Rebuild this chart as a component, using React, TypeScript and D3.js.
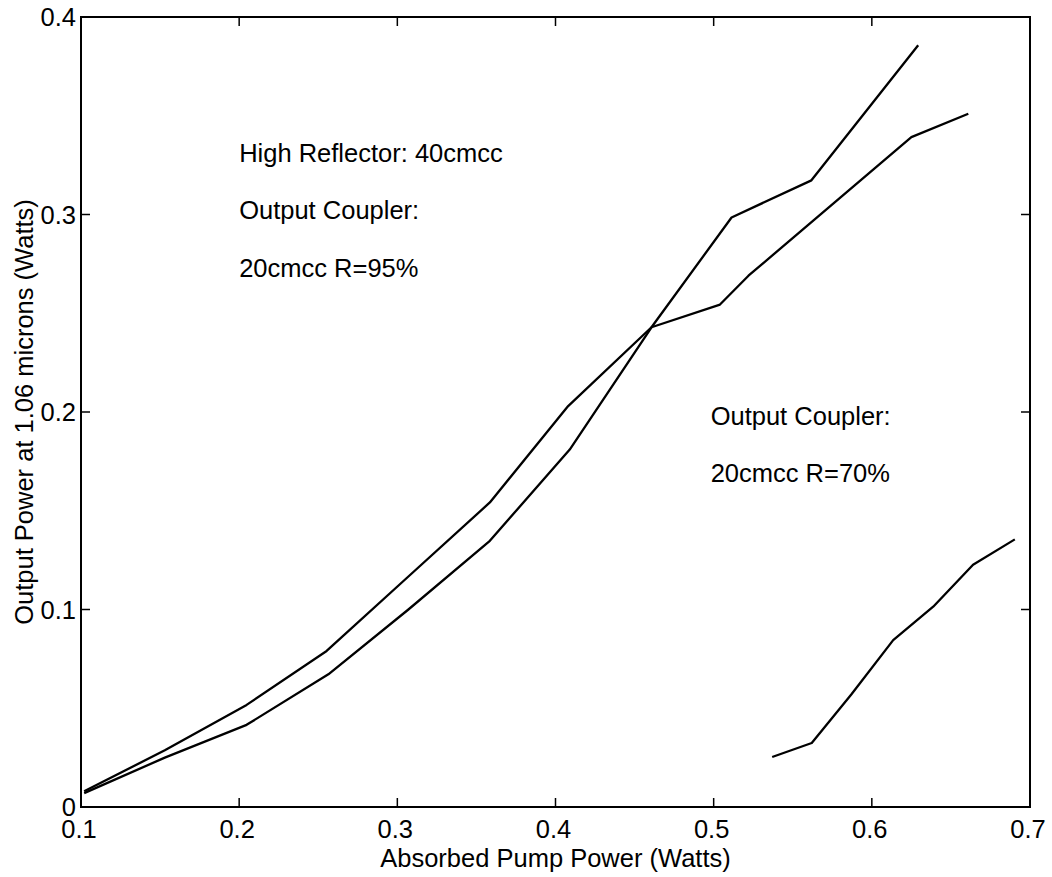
import React from "react";
import * as d3 from "d3";

const xTicks = [0.1, 0.2, 0.3, 0.4, 0.5, 0.6, 0.7];
const xTickLabels = ["0.1", "0.2", "0.3", "0.4", "0.5", "0.6", "0.7"];
const yTicks = [0, 0.1, 0.2, 0.3, 0.4];
const yTickLabels = ["0", "0.1", "0.2", "0.3", "0.4"];

// R=95% pair (two runs) and R=70%
const seriesA_x = [0.102, 0.153, 0.2047, 0.2553, 0.307, 0.3585, 0.408, 0.4607, 0.504, 0.522, 0.625, 0.661];
const seriesA_y = [0.008, 0.0287, 0.0517, 0.079, 0.1167, 0.1542, 0.203, 0.2429, 0.2544, 0.269, 0.3392, 0.351];
const seriesB_x = [0.102, 0.153, 0.2047, 0.2564, 0.307, 0.3585, 0.409, 0.4607, 0.5113, 0.5618, 0.6293];
const seriesB_y = [0.007, 0.025, 0.0416, 0.0672, 0.1, 0.1348, 0.181, 0.2429, 0.2985, 0.3173, 0.3857];
const seriesC_x = [0.537, 0.562, 0.587, 0.6135, 0.6388, 0.664, 0.6904];
const seriesC_y = [0.0253, 0.0324, 0.057, 0.0845, 0.1014, 0.1227, 0.1355];

const annotationTexts = [
  "High Reflector: 40cmcc",
  "Output Coupler:",
  "20cmcc R=95%",
  "Output Coupler:",
  "20cmcc R=70%",
];
const annotationX = [0.2, 0.2, 0.2, 0.5, 0.5];
const annotationY = [0.3265, 0.2975, 0.2685, 0.1935, 0.1645];

const FONT = "'Liberation Sans', Arial, Helvetica, sans-serif";

export default function App() {
  const W = 1052, H = 877;
  const left = 81, right = 1030, top = 17, bottom = 807;
  const x = d3.scaleLinear().domain([0.1, 0.7]).range([left, right]);
  const y = d3.scaleLinear().domain([0, 0.4]).range([bottom, top]);
  const line = d3.line<[number, number]>().x(d => x(d[0])).y(d => y(d[1]));
  const mk = (xs: number[], ys: number[]) => xs.map((v, i) => [v, ys[i]] as [number, number]);
  const series = [mk(seriesA_x, seriesA_y), mk(seriesB_x, seriesB_y), mk(seriesC_x, seriesC_y)];
  const tickLen = 9;

  return (
    <svg width={W} height={H} style={{ position: "absolute", left: 0, top: 0, background: "#fff" }}
      fontFamily={FONT}>
      <rect x={0} y={0} width={W} height={H} fill="#fff" />
      {/* frame */}
      <rect x={left} y={top} width={right - left} height={bottom - top} fill="none" stroke="#000" strokeWidth={2} />
      {/* x ticks */}
      {xTicks.map((t, i) => (
        <g key={"xt" + i}>
          <line x1={x(t)} x2={x(t)} y1={bottom} y2={bottom - tickLen} stroke="#000" strokeWidth={1.5} />
          <line x1={x(t)} x2={x(t)} y1={top} y2={top + tickLen} stroke="#000" strokeWidth={1.5} />
          <text x={x(t) - 2} y={bottom + 31} fontSize={25.5} textAnchor="middle" fill="#000">{xTickLabels[i]}</text>
        </g>
      ))}
      {/* y ticks */}
      {yTicks.map((t, i) => (
        <g key={"yt" + i}>
          <line x1={left} x2={left + tickLen} y1={y(t)} y2={y(t)} stroke="#000" strokeWidth={1.5} />
          <line x1={right} x2={right - tickLen} y1={y(t)} y2={y(t)} stroke="#000" strokeWidth={1.5} />
          <text x={left - 5} y={y(t) + 9} fontSize={25.5} textAnchor="end" fill="#000">{yTickLabels[i]}</text>
        </g>
      ))}
      {/* curves */}
      {series.map((s, i) => (
        <path key={"s" + i} d={line(s) || ""} fill="none" stroke="#000" strokeWidth={2.3} strokeLinejoin="round" />
      ))}
      {/* annotations */}
      {annotationTexts.map((txt, i) => (
        <text key={"a" + i} x={x(annotationX[i]) + (i < 3 ? 0 : -3)} y={y(annotationY[i])} fontSize={25.5} fill="#000">{txt}</text>
      ))}
      {/* axis titles */}
      <text x={(left + right) / 2} y={867} fontSize={25.5} textAnchor="middle" fill="#000">Absorbed Pump Power (Watts)</text>
      <text transform={`translate(33, ${(top + bottom) / 2}) rotate(-90)`} fontSize={25.5} textAnchor="middle" fill="#000">
        Output Power at 1.06 microns (Watts)
      </text>
    </svg>
  );
}
